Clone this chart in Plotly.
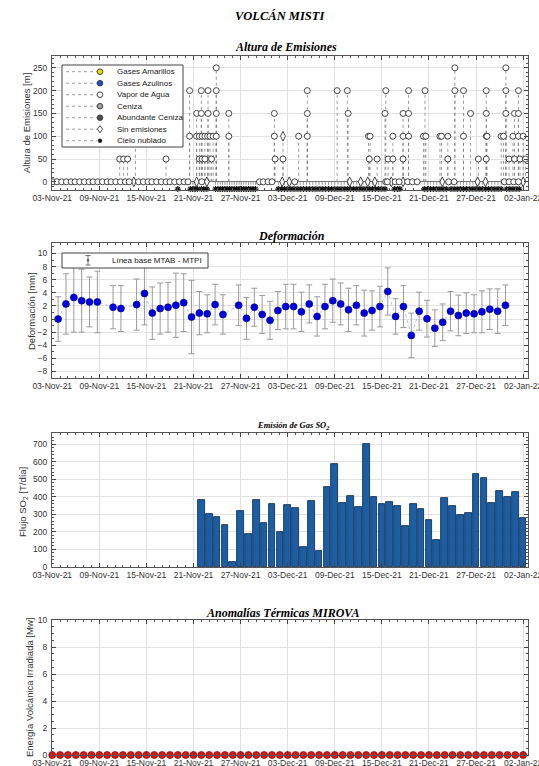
import plotly.graph_objects as go
from datetime import datetime, timedelta

W, H = 539, 766
BASE = datetime(2021, 11, 3)

# ------------------------------------------------------------------ data
# Altura de Emisiones (day offsets from 03-Nov-21)
vapor0_days = [0.1, 0.6, 1.2, 1.8, 2.4, 2.9, 3.5, 4.1, 4.7, 5.2, 5.8, 6.4, 7.0, 7.5,
               8.1, 8.7, 9.3, 9.8, 11.0, 11.6, 12.2, 12.7, 13.3, 13.9, 14.5, 15.0,
               15.6, 16.2, 16.8, 17.3, 19.05, 26.4, 26.9, 27.5, 28.0, 30.9, 42.5, 42.7,
               43.7, 44.2, 45.3, 45.9, 46.5, 50.5, 51.2, 57.6, 58.2, 58.8, 59.4]
vapor_days = [8.6, 9.1, 9.6, 10.6, 14.5, 17.5, 17.5, 18.4, 18.4, 18.75, 18.75,
              19.0, 19.0, 19.1, 19.1, 19.45, 19.45, 19.85, 19.85, 19.8, 20.1, 20.3,
              20.5, 20.9, 20.9, 20.9, 20.9, 22.5, 22.5, 28.3, 28.3, 28.4, 29.4, 31.4,
              32.5, 32.5, 32.5, 36.3, 37.6, 37.7, 40.3, 40.5, 40.4, 41.4, 42.4, 42.5,
              42.8, 43.4, 43.4, 44.7, 44.7, 44.7, 45.4, 45.4, 45.4, 47.3, 47.5, 47.6,
              49.4, 49.6, 50.4, 50.4, 51.3, 51.3, 52.4, 52.4, 53.3, 54.3, 55.3, 55.3,
              55.4, 55.3, 55.3, 57.2, 57.5, 57.8, 57.8, 57.8, 58.2, 58.7, 58.9, 58.9,
              59.4, 59.4, 59.4, 59.6, 60.0, 60.3]
vapor_heights = [50, 50, 50, 100, 50, 200, 100, 150, 100, 100, 50,
                 200, 150, 100, 50, 100, 50, 200, 150, 100, 100, 50,
                 100, 250, 200, 150, 100, 150, 100, 150, 100, 50, 50, 100,
                 200, 150, 100, 200, 200, 150, 100, 100, 50, 50, 150, 200,
                 50, 100, 50, 150, 100, 50, 200, 150, 100, 100, 200, 100,
                 100, 100, 100, 50, 250, 200, 200, 100, 150, 50, 50, 100,
                 100, 150, 200, 100, 100, 250, 200, 150, 50, 100, 150, 50,
                 200, 150, 100, 50, 100, 50]
sin_days = [10.4, 18.4, 19.7, 29.3, 30.2, 37.9, 39.3, 40.2, 41.1, 43.2, 44.7,
            49.7, 54.2, 55.2, 60.0, 29.4]
sin_heights = [0, 0, 0, 0, 0, 0, 0, 0, 0, 0, 0, 0, 0, 0, 0, 100]
nublado_days = [16.0, 17.6, 17.9, 18.2, 18.5, 19.0, 19.3, 19.7, 20.8, 21.1, 21.4,
                21.7, 22.0, 22.3, 22.6, 22.9, 23.2, 23.5, 23.8, 24.1, 24.4, 24.7,
                25.0, 25.3, 25.6, 25.9, 28.8, 29.2, 29.6, 30.0, 30.4, 30.8, 31.2,
                31.6, 32.0, 32.4, 32.8, 33.2, 33.6, 34.0, 34.4, 34.8, 35.2, 35.6,
                36.0, 36.4, 36.8, 37.2, 37.6, 38.0, 38.4, 38.8, 39.2, 39.6, 40.0,
                40.4, 40.8, 41.2, 41.6, 42.0, 42.4, 43.6, 44.0, 44.3, 47.4, 47.8,
                48.2, 48.6, 49.0, 49.4, 49.8, 50.2, 50.8, 51.2, 51.6, 52.0, 52.4,
                52.8, 53.2, 53.6, 54.0, 54.4, 54.8, 55.2, 55.6, 56.0, 56.4, 56.8,
                57.2, 57.9, 58.3, 58.7, 59.1, 59.5]
NUBLADO_LEVEL = -16

# Deformación
defo_days = [0, 1, 2, 3, 4, 5, 7, 8, 10, 11, 12, 13, 14, 15, 16, 17, 18, 19, 20, 21,
             23, 24, 25, 26, 27, 28, 29, 30, 31, 32, 33, 34, 35, 36, 37, 38, 39, 40,
             41, 42, 43, 44, 45, 46, 47, 48, 49, 50, 51, 52, 53, 54, 55, 56, 57]
defo_values = [0.0, 2.3, 3.3, 2.8, 2.6, 2.6, 1.8, 1.6, 2.2, 3.9, 0.9, 1.6, 1.8, 2.1,
               2.5, 0.3, 0.9, 0.8, 2.2, 0.7, 2.1, 0.1, 1.8, 0.7, -0.2, 1.3, 1.9, 1.9,
               1.1, 2.3, 0.4, 1.9, 2.8, 2.3, 1.4, 2.1, 0.9, 1.3, 1.9, 4.2, 0.4, 1.9,
               -2.5, 1.2, 0.05, -1.4, -0.5, 1.2, 0.55, 0.9, 0.8, 1.1, 1.5, 1.2, 2.1]
defo_errors = [3.4, 4.6, 5.3, 4.8, 3.8, 4.7, 3.3, 3.5, 3.9, 4.8, 4.0, 3.9, 3.8, 4.9,
               4.4, 5.6, 3.3, 2.9, 3.1, 3.0, 3.1, 3.2, 2.9, 2.9, 2.9, 2.9, 3.4, 3.4,
               3.0, 2.9, 3.0, 3.4, 3.3, 3.2, 3.3, 3.0, 3.5, 3.0, 3.1, 3.6, 2.7, 3.2,
               3.4, 2.9, 2.8, 2.8, 2.8, 3.0, 3.1, 3.1, 2.9, 3.2, 3.1, 3.4, 3.1]

# Emisión de Gas SO2 (22-Nov-21 .. 02-Jan-22)
so2_days = list(range(19, 61))
so2_values = [380, 305, 283, 242, 27, 320, 188, 385, 252, 357, 200, 353, 338, 115,
              376, 90, 454, 588, 366, 405, 340, 700, 397, 359, 370, 347, 233, 361,
              334, 271, 153, 395, 347, 296, 311, 532, 508, 364, 435, 397, 431, 282]

# Anomalías Térmicas MIROVA (03-Nov-21 .. 02-Jan-22)
mirova_days = list(range(0, 61))
mirova_values = [0.0] * 61

tick_start = '2021-11-03'


def to_dt(days):
    return [BASE + timedelta(days=d) for d in days]


# ------------------------------------------------------------------ helpers
def px(x):
    return x / W


def py(y):
    return 1 - y / H


X_DOM = [px(52), px(528)]
PANELS = [(56, 190), (243, 378), (433, 567), (620, 755)]
XR = [BASE - timedelta(days=0.03), BASE + timedelta(days=60.62)]
TICKFONT = dict(family='Liberation Sans, Arial', size=8.5, color='#333')
DAY = 86400000

fig = go.Figure()

# ---- panel 1: stems
stem_x, stem_y = [], []
all_d = vapor0_days + vapor_days + sin_days + nublado_days
all_h = [0] * len(vapor0_days) + vapor_heights + sin_heights + [NUBLADO_LEVEL] * len(nublado_days)
for dd, hh in zip(to_dt(all_d), all_h):
    if hh != 0:
        stem_x += [dd, dd, None]
        stem_y += [0, hh, None]
fig.add_trace(go.Scatter(x=stem_x, y=stem_y, mode='lines', xaxis='x', yaxis='y',
                         line=dict(color='#808080', width=0.8, dash='dot'),
                         showlegend=False, hoverinfo='skip'))
fig.add_trace(go.Scatter(x=to_dt(nublado_days), y=[NUBLADO_LEVEL] * len(nublado_days),
                         mode='markers', xaxis='x', yaxis='y', cliponaxis=False,
                         marker=dict(symbol='asterisk-open', size=5, color='#111',
                                     line=dict(color='#111', width=1.1)),
                         showlegend=False))
fig.add_trace(go.Scatter(x=to_dt(sin_days), y=sin_heights, mode='markers',
                         xaxis='x', yaxis='y',
                         marker=dict(symbol='diamond-tall', size=7, color='white',
                                     line=dict(color='#333', width=0.9)),
                         showlegend=False))
fig.add_trace(go.Scatter(x=to_dt(vapor0_days + vapor_days),
                         y=[0] * len(vapor0_days) + vapor_heights, mode='markers',
                         xaxis='x', yaxis='y',
                         marker=dict(symbol='circle', size=6, color='white',
                                     line=dict(color='#333', width=0.9)),
                         showlegend=False))

# ---- panel 2: deformation
defo_dt = [BASE + timedelta(days=d + 0.75) for d in defo_days]
fig.add_trace(go.Scatter(x=defo_dt, y=defo_values, mode='lines', xaxis='x2', yaxis='y2',
                         line=dict(color='#9fb0d8', width=0.8, dash='dot'),
                         showlegend=False, hoverinfo='skip'))
fig.add_trace(go.Scatter(x=defo_dt, y=defo_values, mode='markers', xaxis='x2', yaxis='y2',
                         error_y=dict(type='data', array=defo_errors, color='#9a9a9a',
                                      thickness=1, width=3),
                         marker=dict(size=7, color='#0000dd',
                                     line=dict(color='#00008a', width=0.6)),
                         showlegend=False))

# ---- panel 3: SO2
fig.add_trace(go.Bar(x=to_dt(so2_days), y=so2_values, xaxis='x3', yaxis='y3',
                     width=0.85 * DAY,
                     marker=dict(color='#1a5fa6', line=dict(color='#0b2545', width=0.8)),
                     showlegend=False))

# ---- panel 4: MIROVA
fig.add_trace(go.Scatter(x=to_dt(mirova_days), y=mirova_values, mode='markers',
                         xaxis='x4', yaxis='y4', cliponaxis=False,
                         marker=dict(size=7, color='#e3140f',
                                     line=dict(color='#8a0000', width=0.7)),
                         showlegend=False))


def xaxis(i):
    return dict(type='date', domain=X_DOM, anchor='y' if i == 0 else 'y%d' % (i + 1),
                range=XR, tick0=tick_start, dtick=6 * DAY, tickformat='%d-%b-%y',
                ticks='inside', ticklen=4, tickcolor='#444', showline=True,
                linecolor='#555', linewidth=1, mirror='ticks', showgrid=True,
                gridcolor='#e2e2e2', gridwidth=1, tickfont=TICKFONT, zeroline=False,
                automargin=False, ticklabeloverflow='allow',
                minor=dict(ticks='inside', ticklen=2, dtick=DAY, tick0=tick_start,
                           tickcolor='#555', showgrid=False))


def yaxis(i, rng, dtick, mdtick, zeroline=False):
    y0, y1 = PANELS[i]
    return dict(domain=[py(y1), py(y0)], anchor='x' if i == 0 else 'x%d' % (i + 1),
                range=rng, dtick=dtick, tick0=0, ticks='inside', ticklen=4,
                tickcolor='#444', showline=True, linecolor='#555', linewidth=1,
                mirror='ticks', showgrid=True, gridcolor='#e2e2e2', tickfont=TICKFONT,
                zeroline=zeroline, zerolinecolor='#777', zerolinewidth=0.9,
                automargin=False, ticklabelstandoff=2, ticklabeloverflow='allow',
                minor=dict(ticks='inside', ticklen=2, dtick=mdtick, tick0=0,
                           tickcolor='#555', showgrid=False))


layout = dict(width=W, height=H, margin=dict(l=0, r=0, t=0, b=0),
              paper_bgcolor='white', plot_bgcolor='white', showlegend=False,
              bargap=0)
layout['xaxis'] = xaxis(0)
layout['xaxis2'] = xaxis(1)
layout['xaxis3'] = xaxis(2)
layout['xaxis4'] = xaxis(3)
layout['yaxis'] = yaxis(0, [-18, 276], 50, 10, zeroline=True)
layout['yaxis2'] = yaxis(1, [-9, 11.6], 2, 1)
layout['yaxis3'] = yaxis(2, [0, 765], 100, 20)
layout['yaxis4'] = yaxis(3, [0, 10], 2, 0.5)

SERIF = 'Liberation Serif, Times New Roman, serif'
SANS = 'Liberation Sans, Arial, sans-serif'
ann = []


def text(x, y, s, size, family=SANS, color='#222', angle=0, xanchor='center'):
    ann.append(dict(x=px(x), y=py(y), xref='paper', yref='paper', text=s,
                    showarrow=False, textangle=angle, xanchor=xanchor,
                    yanchor='middle', font=dict(family=family, size=size, color=color)))


text(280, 16, '<b><i>VOLCÁN MISTI</i></b>', 12.5, SERIF, '#000')
text(286, 47, '<b><i>Altura de Emisiones</i></b>', 12, SERIF, '#000')
text(291, 236, '<b><i>Deformación</i></b>', 12, SERIF, '#000')
text(293, 425, '<b><i>Emisión de Gas SO<sub>2</sub></i></b>', 8.5, SERIF, '#000')
text(282, 613, '<b><i>Anomalías Térmicas MIROVA</i></b>', 12, SERIF, '#000')

text(27, 123, 'Altura de Emisiones [m]', 9.5, angle=-90, color='#333')
text(31, 311, 'Deformación [mm]', 9.5, angle=-90, color='#333')
text(23, 502, 'Flujo SO<sub>2</sub> [T/día]', 9.5, angle=-90, color='#333')
text(29, 688, 'Energía Volcánica Irradiada [Mw]', 9.5, angle=-90, color='#333')

shapes = []
# legend 1 box
shapes.append(dict(type='rect', xref='paper', yref='paper', x0=px(62), x1=px(183),
                   y0=py(147), y1=py(65), fillcolor='white',
                   line=dict(color='#444', width=1), layer='above'))
leg_names = ['Gases Amarillos', 'Gases Azulinos', 'Vapor de Agua', 'Ceniza',
             'Abundante Ceniza', 'Sin emisiones', 'Cielo nublado']
leg_fill = ['#f2dc00', '#1f4fd0', 'white', '#a0a0a0', '#505050', 'white', '#111']
for k, (nm, fc) in enumerate(zip(leg_names, leg_fill)):
    yy = 71.7 + 11.5 * k
    shapes.append(dict(type='line', xref='paper', yref='paper', x0=px(66), x1=px(97),
                       y0=py(yy), y1=py(yy), line=dict(color='#888', width=0.8, dash='dot'),
                       layer='above'))
    common = dict(xref='paper', yref='paper', xsizemode='pixel', ysizemode='pixel',
                  xanchor=px(100), yanchor=py(yy), layer='above')
    if k < 5:
        shapes.append(dict(type='circle', x0=-2.8, x1=2.8, y0=-2.8, y1=2.8,
                           fillcolor=fc, line=dict(color='#333', width=0.9), **common))
    elif k == 5:
        shapes.append(dict(type='path', path='M 0,3.6 L 2.6,0 L 0,-3.6 L -2.6,0 Z',
                           fillcolor='white', line=dict(color='#333', width=0.9), **common))
    else:
        shapes.append(dict(type='path',
                           path='M -2.2,0 L 2.2,0 M 0,-2.2 L 0,2.2 M -1.6,-1.6 L 1.6,1.6 '
                                'M -1.6,1.6 L 1.6,-1.6',
                           line=dict(color='#111', width=1.1), **common))
    text(115, yy, nm, 8, color='#222', xanchor='left')

# legend 2 box
shapes.append(dict(type='rect', xref='paper', yref='paper', x0=px(62), x1=px(208),
                   y0=py(268), y1=py(253), fillcolor='white',
                   line=dict(color='#444', width=1), layer='above'))
for (xa, ya, xb, yb) in [(88, 255.5, 88, 265), (85.5, 255.5, 90.5, 255.5),
                         (85.5, 265, 90.5, 265)]:
    shapes.append(dict(type='line', xref='paper', yref='paper', x0=px(xa), x1=px(xb),
                       y0=py(ya), y1=py(yb), line=dict(color='#777', width=1),
                       layer='above'))
shapes.append(dict(type='circle', xref='paper', yref='paper', xsizemode='pixel',
                   ysizemode='pixel', xanchor=px(88), yanchor=py(260.3), x0=-1, x1=1,
                   y0=-1, y1=1, fillcolor='#555', line=dict(color='#555', width=0.5),
                   layer='above'))
text(110, 260.5, 'Línea base MTAB - MTPI', 8, color='#222', xanchor='left')

layout['annotations'] = ann
layout['shapes'] = shapes
fig.update_layout(**layout)
fig.write_html('out.html', config={'displayModeBar': False},
               post_script="document.body.style.margin='0';"
                           "document.body.style.overflow='hidden';")
